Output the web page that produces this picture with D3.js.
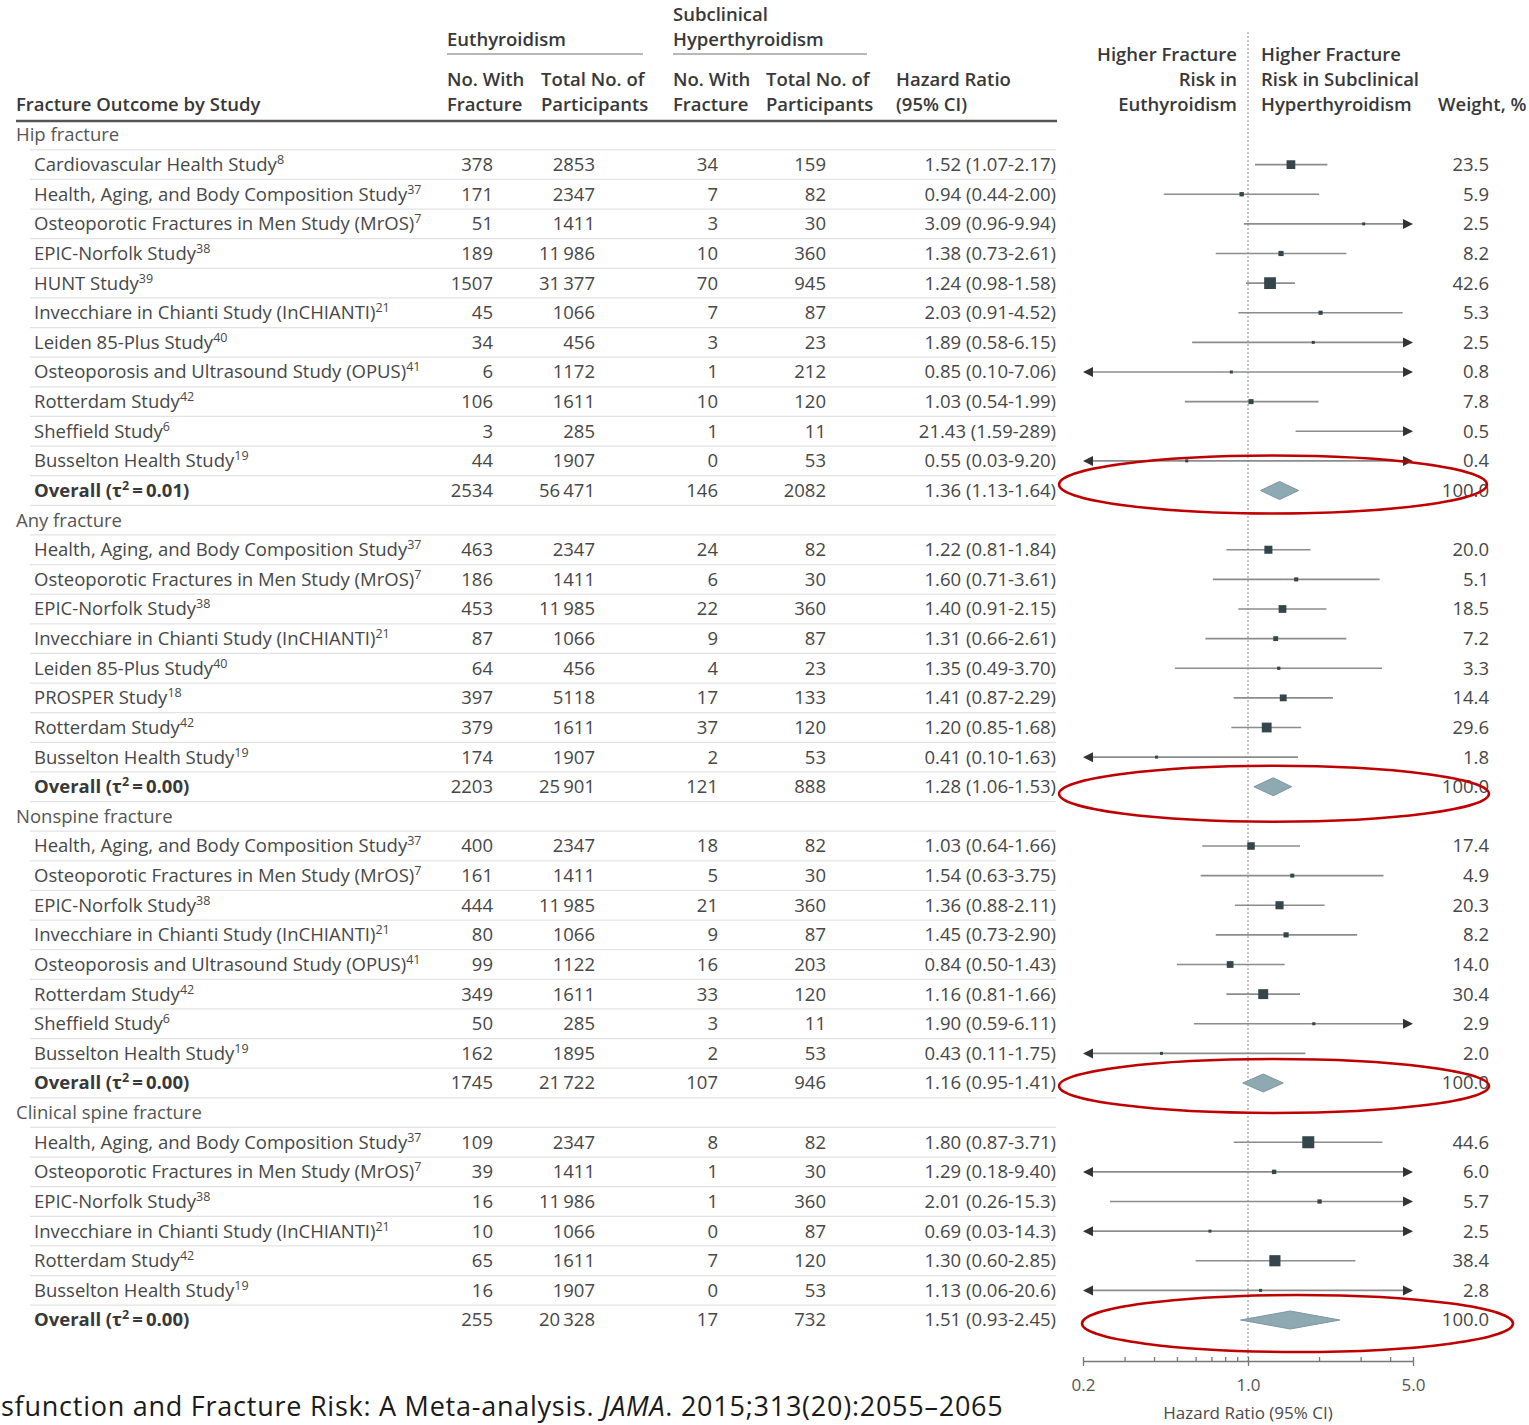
<!DOCTYPE html>
<html>
<head>
<meta charset="utf-8">
<script src="https://cdn.jsdelivr.net/npm/d3@7"></script>
<style>
  html, body { margin: 0; padding: 0; background: #fff; }
  svg { display: block; }
  text { font-family: "Open Sans", sans-serif; }
</style>
</head>
<body>
<svg id="chart" width="1529" height="1425"></svg>
<script>
// Row kinds: g = outcome heading, s = single study, o = pooled estimate
const rowKind = [
  "g","s","s","s","s","s","s","s","s","s","s","s","o",
  "g","s","s","s","s","s","s","s","s","o",
  "g","s","s","s","s","s","s","s","s","o",
  "g","s","s","s","s","s","s","o"
];
const rowLabel = [
  "Hip fracture",
  "Cardiovascular Health Study","Health, Aging, and Body Composition Study","Osteoporotic Fractures in Men Study (MrOS)",
  "EPIC-Norfolk Study","HUNT Study","Invecchiare in Chianti Study (InCHIANTI)","Leiden 85-Plus Study",
  "Osteoporosis and Ultrasound Study (OPUS)","Rotterdam Study","Sheffield Study","Busselton Health Study",
  "Overall",
  "Any fracture",
  "Health, Aging, and Body Composition Study","Osteoporotic Fractures in Men Study (MrOS)","EPIC-Norfolk Study",
  "Invecchiare in Chianti Study (InCHIANTI)","Leiden 85-Plus Study","PROSPER Study","Rotterdam Study","Busselton Health Study",
  "Overall",
  "Nonspine fracture",
  "Health, Aging, and Body Composition Study","Osteoporotic Fractures in Men Study (MrOS)","EPIC-Norfolk Study",
  "Invecchiare in Chianti Study (InCHIANTI)","Osteoporosis and Ultrasound Study (OPUS)","Rotterdam Study","Sheffield Study","Busselton Health Study",
  "Overall",
  "Clinical spine fracture",
  "Health, Aging, and Body Composition Study","Osteoporotic Fractures in Men Study (MrOS)","EPIC-Norfolk Study",
  "Invecchiare in Chianti Study (InCHIANTI)","Rotterdam Study","Busselton Health Study",
  "Overall"
];
const rowRef = [
  "", "8","37","7","38","39","21","40","41","42","6","19", "",
  "", "37","7","38","21","40","18","42","19", "",
  "", "37","7","38","21","41","42","6","19", "",
  "", "37","7","38","21","42","19", ""
];
const tauSq = [0.01, 0.00, 0.00, 0.00];

const euFx = [null, 378,171,51,189,1507,45,34,6,106,3,44, 2534,
              null, 463,186,453,87,64,397,379,174, 2203,
              null, 400,161,444,80,99,349,50,162, 1745,
              null, 109,39,16,10,65,16, 255];
const euN  = [null, 2853,2347,1411,11986,31377,1066,456,1172,1611,285,1907, 56471,
              null, 2347,1411,11985,1066,456,5118,1611,1907, 25901,
              null, 2347,1411,11985,1066,1122,1611,285,1895, 21722,
              null, 2347,1411,11986,1066,1611,1907, 20328];
const subFx = [null, 34,7,3,10,70,7,3,1,10,1,0, 146,
               null, 24,6,22,9,4,17,37,2, 121,
               null, 18,5,21,9,16,33,3,2, 107,
               null, 8,1,1,0,7,0, 17];
const subN  = [null, 159,82,30,360,945,87,23,212,120,11,53, 2082,
               null, 82,30,360,87,23,133,120,53, 888,
               null, 82,30,360,87,203,120,11,53, 946,
               null, 82,30,360,87,120,53, 732];
const hr = [null, 1.52,0.94,3.09,1.38,1.24,2.03,1.89,0.85,1.03,21.43,0.55, 1.36,
            null, 1.22,1.60,1.40,1.31,1.35,1.41,1.20,0.41, 1.28,
            null, 1.03,1.54,1.36,1.45,0.84,1.16,1.90,0.43, 1.16,
            null, 1.80,1.29,2.01,0.69,1.30,1.13, 1.51];
const ciLo = [null, 1.07,0.44,0.96,0.73,0.98,0.91,0.58,0.10,0.54,1.59,0.03, 1.13,
              null, 0.81,0.71,0.91,0.66,0.49,0.87,0.85,0.10, 1.06,
              null, 0.64,0.63,0.88,0.73,0.50,0.81,0.59,0.11, 0.95,
              null, 0.87,0.18,0.26,0.03,0.60,0.06, 0.93];
const ciHi = [null, 2.17,2.00,9.94,2.61,1.58,4.52,6.15,7.06,1.99,289,9.20, 1.64,
              null, 1.84,3.61,2.15,2.61,3.70,2.29,1.68,1.63, 1.53,
              null, 1.66,3.75,2.11,2.90,1.43,1.66,6.11,1.75, 1.41,
              null, 3.71,9.40,15.3,14.3,2.85,20.6, 2.45];
const weight = [null, 23.5,5.9,2.5,8.2,42.6,5.3,2.5,0.8,7.8,0.5,0.4, 100.0,
                null, 20.0,5.1,18.5,7.2,3.3,14.4,29.6,1.8, 100.0,
                null, 17.4,4.9,20.3,8.2,14.0,30.4,2.9,2.0, 100.0,
                null, 44.6,6.0,5.7,2.5,38.4,2.8, 100.0];

// Column headings
const groupHeads = [["Euthyroidism"], ["Subclinical", "Hyperthyroidism"]];
const colHeads = [["No. With","Fracture"],["Total No. of","Participants"],["No. With","Fracture"],["Total No. of","Participants"],["Hazard Ratio","(95% CI)"]];
const leftFavors = ["Higher Fracture","Risk in","Euthyroidism"];
const rightFavors = ["Higher Fracture","Risk in Subclinical","Hyperthyroidism"];
const tickValues = [0.2,0.3,0.4,0.5,0.6,0.7,0.8,0.9,1,2,3,4,5];
const majorTicks = [0.2, 1, 5];

const svg = d3.select("#chart");
const nRows = rowKind.length;
const y = d3.scalePoint().domain(d3.range(nRows)).range([135, 1320]);
const x = d3.scaleLog().domain([0.2, 5]).range([1083, 1413]);
const step = y.step();

const TXT = "#474747", HEAD = "#383838";
const FS = 18.5, SUP = 12.5, SUP_RISE = 7;

// number formats
const fmtCount = v => v >= 10000 ? d3.format(",")(v).replace(",", "\u2009") : String(v);
const fmtBound = v => v >= 100 ? v.toFixed(0) : v >= 10 ? v.toFixed(1) : v.toFixed(2);

// ---- row separators
const sep = svg.append("g");
d3.range(1, nRows).forEach(i => {
  const yy = y(i) - step / 2;
  sep.append("line").attr("x1", 30).attr("x2", 1056).attr("y1", yy).attr("y2", yy)
    .attr("stroke", "#e3e3e3").attr("stroke-width", 1.2);
});

// ---- header
const head = svg.append("g").attr("fill", HEAD).attr("font-size", FS).attr("font-weight", 600);
head.append("text").attr("x", 16).attr("y", 105).attr("dy", "0.35em").text("Fracture Outcome by Study");
const groupX = [447, 673], groupW = [196, 194];
groupHeads.forEach((lines, gi) => {
  lines.forEach((t, li) => {
    head.append("text").attr("x", groupX[gi]).attr("y", 40 - (lines.length - 1 - li) * 25)
      .attr("dy", "0.35em").text(t);
  });
  svg.append("line").attr("x1", groupX[gi]).attr("x2", groupX[gi] + groupW[gi])
    .attr("y1", 54).attr("y2", 54).attr("stroke", "#a0a0a0").attr("stroke-width", 1.5);
});
const colHeadX = [447, 541, 673, 766, 896];
colHeads.forEach((lines, ci) => {
  lines.forEach((t, li) => head.append("text").attr("x", colHeadX[ci]).attr("y", 80 + li * 25).attr("dy", "0.35em").text(t));
});
leftFavors.forEach((t, i) => head.append("text").attr("x", 1237).attr("y", 55 + i * 25).attr("dy", "0.35em").attr("text-anchor", "end").text(t));
rightFavors.forEach((t, i) => head.append("text").attr("x", 1261).attr("y", 55 + i * 25).attr("dy", "0.35em").text(t));
head.append("text").attr("x", 1438).attr("y", 105).attr("dy", "0.35em").text("Weight, %");

svg.append("line").attr("x1", 16).attr("x2", 1057).attr("y1", 121).attr("y2", 121)
  .attr("stroke", "#555").attr("stroke-width", 2.5);

// ---- table body
const body = svg.append("g").attr("font-size", FS).attr("fill", TXT);
let overallIdx = 0;
d3.range(nRows).forEach(i => {
  const kind = rowKind[i], base = y(i) + 0.35 * FS;
  const t = body.append("text").attr("y", base).attr("x", kind === "g" ? 16 : 34);
  if (kind === "g") {
    t.text(rowLabel[i]).attr("fill", "#555");
    return;
  }
  if (kind === "s") {
    t.text(rowLabel[i]);
    t.append("tspan").attr("font-size", SUP).attr("dy", -SUP_RISE).text(rowRef[i]);
  } else {
    t.attr("font-weight", 700).attr("fill", HEAD).text(rowLabel[i] + " (\u03c4");
    t.append("tspan").attr("font-size", SUP).attr("dy", -SUP_RISE).text("2");
    t.append("tspan").attr("dy", SUP_RISE).text("\u2009=\u2009" + tauSq[overallIdx++].toFixed(2) + ")");
  }
  const cols = [[euFx, 493], [euN, 595], [subFx, 718], [subN, 826]];
  cols.forEach(([arr, xr]) => {
    body.append("text").attr("x", xr).attr("y", base).attr("text-anchor", "end")
      .text(fmtCount(arr[i]));
  });
  body.append("text").attr("x", 1056).attr("y", base).attr("text-anchor", "end")
    .text(hr[i].toFixed(2) + " (" + fmtBound(ciLo[i]) + "-" + fmtBound(ciHi[i]) + ")");
  body.append("text").attr("x", 1489).attr("y", base).attr("text-anchor", "end")
    .text(weight[i].toFixed(1));
});

// ---- forest plot
const plot = svg.append("g");
plot.append("line").attr("x1", x(1)).attr("x2", x(1)).attr("y1", 32).attr("y2", 1361)
  .attr("stroke", "#9a9a9a").attr("stroke-width", 1.2).attr("stroke-dasharray", "2,2");

const [xmin, xmax] = x.domain();
const arrowLen = 10, arrowHalf = 5;
d3.range(nRows).forEach(i => {
  const yy = y(i);
  if (rowKind[i] === "s") {
    const lo = Math.max(ciLo[i], xmin), hi = Math.min(ciHi[i], xmax);
    const x1 = x(lo) + (ciLo[i] < xmin ? arrowLen : 0);
    const x2 = x(hi) - (ciHi[i] > xmax ? arrowLen : 0);
    plot.append("line").attr("x1", x1).attr("x2", x2).attr("y1", yy).attr("y2", yy)
      .attr("stroke", "#8c8c8c").attr("stroke-width", 1.6);
    if (ciLo[i] < xmin) {
      plot.append("path").attr("fill", "#333")
        .attr("d", `M${x(xmin)},${yy}L${x(xmin) + arrowLen},${yy - arrowHalf}L${x(xmin) + arrowLen},${yy + arrowHalf}Z`);
    }
    if (ciHi[i] > xmax) {
      plot.append("path").attr("fill", "#333")
        .attr("d", `M${x(xmax)},${yy}L${x(xmax) - arrowLen},${yy - arrowHalf}L${x(xmax) - arrowLen},${yy + arrowHalf}Z`);
    }
    if (hr[i] >= xmin && hr[i] <= xmax) {
      const s = Math.max(3, 1.8 * Math.sqrt(weight[i]));
      plot.append("rect").attr("x", x(hr[i]) - s / 2).attr("y", yy - s / 2)
        .attr("width", s).attr("height", s).attr("fill", "#34454b");
    }
  } else if (rowKind[i] === "o") {
    const h = 9;
    plot.append("path")
      .attr("d", `M${x(ciLo[i])},${yy}L${x(hr[i])},${yy - h}L${x(ciHi[i])},${yy}L${x(hr[i])},${yy + h}Z`)
      .attr("fill", "#8fa9b2").attr("stroke", "#7d97a1").attr("stroke-width", 1);
  }
});

// ---- axis
const axisG = svg.append("g").attr("transform", "translate(0,1361)");
axisG.call(d3.axisTop(x).tickValues(tickValues).tickSizeInner(4).tickSizeOuter(0).tickFormat(""));
const majorG = svg.append("g").attr("transform", "translate(0,1361)");
majorG.call(d3.axisBottom(x).tickValues(majorTicks).tickSizeInner(5).tickSizeOuter(0).tickPadding(13)
  .tickFormat(d3.format(".1f")));
majorG.select(".domain").remove();
[axisG, majorG].forEach(g => {
  g.selectAll("path.domain").attr("stroke", "#777").attr("stroke-width", 1.5);
  g.selectAll(".tick line").attr("stroke", "#777").attr("stroke-width", 1.3);
  g.selectAll(".tick text").attr("font-size", 17).attr("fill", "#555").attr("font-family", "Open Sans, sans-serif");
});
svg.append("text").attr("x", x(1)).attr("y", 1413).attr("dy", "0.35em").attr("text-anchor", "middle")
  .attr("font-size", 17).attr("fill", "#4a4a4a").text("Hazard Ratio (95% CI)");

// ---- highlight rings around the pooled estimates
const overallRows = d3.range(nRows).filter(i => rowKind[i] === "o");
const ringDx = [25, 26, 26, 49.5], ringDy = [-6, 7, 3, 3.5], ringRx = [214, 215, 215, 215.5], ringRy = [29, 28, 27, 28.5];
overallRows.forEach((r, k) => {
  svg.append("ellipse").attr("cx", x(1) + ringDx[k]).attr("cy", y(r) + ringDy[k])
    .attr("rx", ringRx[k]).attr("ry", ringRy[k])
    .attr("fill", "none").attr("stroke", "#c00000").attr("stroke-width", 2.5);
});

// ---- citation line
const cite = svg.append("text").attr("x", 1).attr("y", 1416).attr("font-size", 27)
  .attr("letter-spacing", 0.75).attr("fill", "#1a1a1a");
cite.append("tspan").text("sfunction and Fracture Risk: A Meta-analysis. ");
cite.append("tspan").attr("font-style", "italic").text("JAMA");
cite.append("tspan").text(". 2015;313(20):2055\u20132065");
</script>
</body>
</html>
